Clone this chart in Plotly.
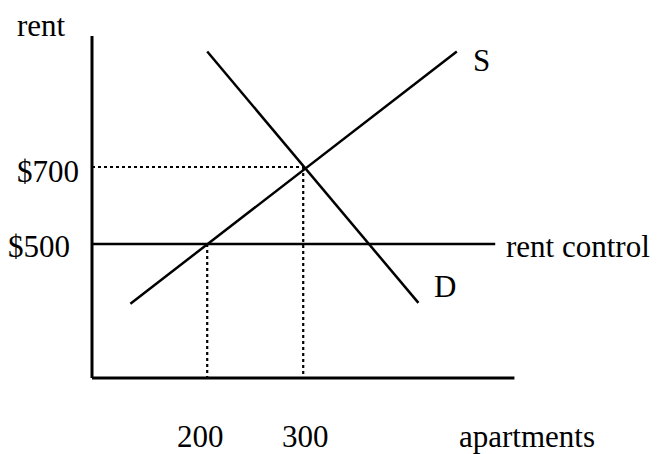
import plotly.graph_objects as go

# Supply and demand curves (apartments, rent in $)
supply_q = [120, 460]
supply_p = [345, 1000]
demand_q = [200, 420]
demand_p = [1000, 347]

# Rent control ceiling
control_q = [80, 500]
control_p = [500, 500]

# Equilibrium and shortage markers
equil_q = 300
equil_p = 700
control_qs = 200
control_price = 500

# Axis extent
axis_q = [80, 520]
axis_p = [152, 1040]

tick_labels_p = ["$700", "$500"]
tick_labels_q = ["200", "300"]

FONT = dict(family="Liberation Serif, Times New Roman, serif", size=31, color="black")

fig = go.Figure()


def add_line(x, y, dash="solid", width=2.5):
    fig.add_trace(go.Scatter(
        x=x, y=y, mode="lines",
        line=dict(color="black", width=width, dash=dash),
        hoverinfo="skip", showlegend=False,
    ))


# axes
add_line([axis_q[0], axis_q[0]], [axis_p[1], axis_p[0]], width=3)
add_line([axis_q[0], axis_q[1]], [axis_p[0], axis_p[0]], width=3)

# dotted guides
dots = "3px,3px"
add_line([axis_q[0], equil_q], [equil_p, equil_p], dash=dots, width=2.2)
add_line([equil_q, equil_q], [equil_p, axis_p[0]], dash=dots, width=2.2)
add_line([control_qs, control_qs], [control_price, axis_p[0]], dash=dots, width=2.2)

# curves
add_line(control_q, control_p)
add_line(supply_q, supply_p)
add_line(demand_q, demand_p)

notes = [
    dict(x=axis_q[0], y=equil_p, text=tick_labels_p[0], xanchor="right", xshift=-11, yshift=-4),
    dict(x=axis_q[0], y=control_price, text=tick_labels_p[1], xanchor="right", xshift=-20, yshift=-2),
    dict(x=control_qs, y=-1, text=tick_labels_q[0], xanchor="center", xshift=-6.5),
    dict(x=equil_q, y=-1, text=tick_labels_q[1], xanchor="center", xshift=2),
    dict(x=533, y=-1, text="apartments", xanchor="center"),
    dict(x=27.9, y=1068, text="rent", xanchor="center"),
    dict(x=supply_q[1], y=supply_p[1], text="S", xanchor="center", xshift=25, yshift=-9),
    dict(x=demand_q[1], y=demand_p[1], text="D", xanchor="center", xshift=27, yshift=16),
    dict(x=control_q[1], y=control_p[1], text="rent control", xanchor="left", xshift=9, yshift=-2),
]
for n in notes:
    fig.add_annotation(**n, xref="x", yref="y", yanchor="middle",
                       showarrow=False, font=FONT)

fig.update_layout(
    width=657, height=454,
    margin=dict(l=0, r=0, t=0, b=0),
    paper_bgcolor="white", plot_bgcolor="white",
    xaxis=dict(range=[-15.83, 668.5], visible=False, fixedrange=True),
    yaxis=dict(range=[-45.4, 1133.8], visible=False, fixedrange=True),
    showlegend=False,
)

# drop the default page margin so the figure sits at the window's corner
fig.write_html("out.html", config={"displayModeBar": False},
               post_script="document.body.style.margin='0';")
